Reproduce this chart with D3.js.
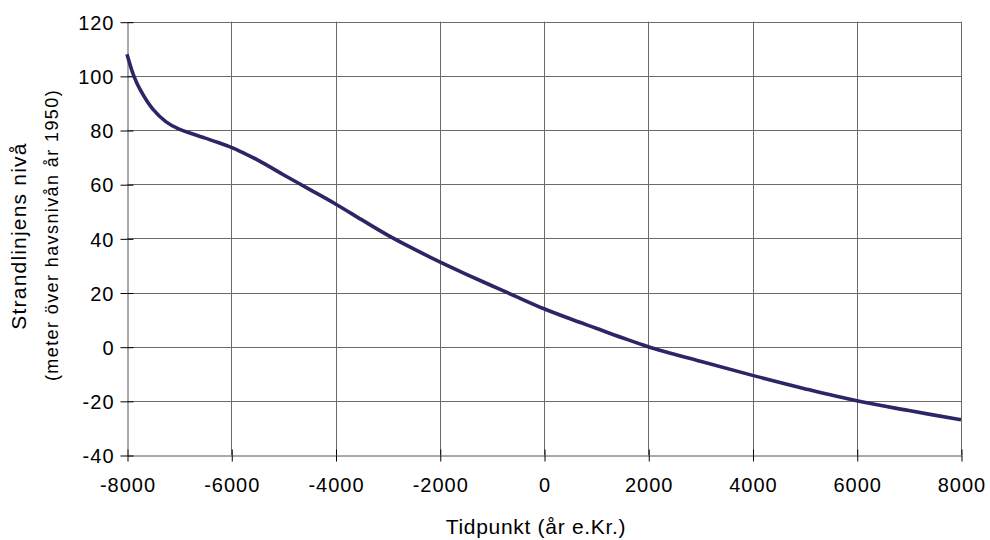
<!DOCTYPE html>
<html>
<head>
<meta charset="utf-8">
<script src="https://cdn.jsdelivr.net/npm/d3@7"></script>
<style>
  html, body { margin: 0; padding: 0; background: #fff; }
  svg text { font-family: "Liberation Sans", Arial, Helvetica, sans-serif; fill: #000; }
</style>
</head>
<body>
<svg id="chart" width="990" height="540"></svg>
<script>
// Shoreline level (m above 1950 sea level) by year AD
const years  = [-8000, -7875, -7750, -7500, -7250, -7000, -6750, -6500, -6250, -6000, -5750, -5500, -5250, -5000, -4500, -4000, -3500, -3000, -2500, -2000, -1500, -1000, -500, 0, 500, 1000, 1500, 2000, 3000, 4000, 5000, 6000, 7000, 8000];
const levels = [108, 100.3, 95, 87.6, 83, 80.3, 78.6, 77.0, 75.4, 73.6, 71.4, 69.0, 66.3, 63.5, 58.1, 52.7, 46.9, 41.2, 36.1, 31.3, 26.8, 22.5, 18.2, 14, 10.3, 6.8, 3.3, 0, -5.4, -10.6, -15.5, -20, -23.6, -27];
const xTicks = [-8000, -6000, -4000, -2000, 0, 2000, 4000, 6000, 8000];
const yTicks = [-40, -20, 0, 20, 40, 60, 80, 100, 120];

const svg = d3.select("#chart");
const plotLeft = 127, plotRight = 961, plotTop = 21.7, plotBottom = 455;

const x = d3.scaleLinear().domain([-8000, 8000]).range([plotLeft, plotRight]);
const y = d3.scaleLinear().domain([-40, 120]).range([plotBottom, plotTop]);

// grid
const grid = svg.append("g").attr("stroke", "#6a6a6a").attr("stroke-width", 1);
grid.selectAll(".gx").data(xTicks.slice(1)).enter().append("line")
  .attr("x1", d => Math.round(x(d)) + 0.5).attr("x2", d => Math.round(x(d)) + 0.5)
  .attr("y1", y(120)).attr("y2", y(-40));
grid.selectAll(".gy").data(yTicks.slice(1)).enter().append("line")
  .attr("y1", d => Math.round(y(d)) + 0.5).attr("y2", d => Math.round(y(d)) + 0.5)
  .attr("x1", x(-8000)).attr("x2", x(8000));

// axes with ticks crossing the axis line; labels use a plain hyphen
const fmt = d => String(d);
const xAxis = d3.axisBottom(x).tickValues(xTicks).tickSizeInner(6).tickSizeOuter(0).tickFormat(fmt);
const yAxis = d3.axisLeft(y).tickValues(yTicks).tickSizeInner(7).tickSizeOuter(0).tickFormat(fmt);

const gx = svg.append("g").attr("transform", `translate(0.5,${Math.round(y(-40)) + 0.5})`).call(xAxis);
const gy = svg.append("g").attr("transform", `translate(${Math.round(x(-8000)) + 0.5},0.5)`).call(yAxis);

[gx, gy].forEach(g => {
  g.select(".domain").attr("stroke", "#555");
  g.selectAll(".tick line").attr("stroke", "#000");
  g.selectAll(".tick text")
    .style("font-size", "20px")
    .style("letter-spacing", "1px")
    .style("fill", "#000");
});
gx.selectAll(".tick").append("line").attr("y1", 0).attr("y2", -6).attr("stroke", "#000");
gy.selectAll(".tick").append("line").attr("x1", 0).attr("x2", 6).attr("stroke", "#000");
gx.selectAll(".tick text").attr("y", 22).attr("dy", "0.71em");
gy.selectAll(".tick text").attr("x", -13).attr("dy", "0.36em");

// curve
const line = d3.line()
  .x((d, i) => x(years[i]))
  .y(d => y(d))
  .curve(d3.curveCatmullRom.alpha(0.5));
svg.append("path")
  .datum(levels)
  .attr("d", line)
  .attr("fill", "none")
  .attr("stroke", "#2b2766")
  .attr("stroke-width", 3.6)
  .attr("stroke-linejoin", "round");

// axis titles
svg.append("text")
  .attr("x", 536).attr("y", 534)
  .attr("text-anchor", "middle")
  .style("font-size", "21px")
  .style("letter-spacing", "0.7px")
  .text("Tidpunkt (år e.Kr.)");

svg.append("text")
  .attr("transform", "translate(26,236) rotate(-90)")
  .attr("text-anchor", "middle")
  .style("font-size", "21px")
  .style("letter-spacing", "1.2px")
  .text("Strandlinjens nivå");

svg.append("text")
  .attr("transform", "translate(58,235) rotate(-90)")
  .attr("text-anchor", "middle")
  .style("font-size", "18px")
  .style("letter-spacing", "1.4px")
  .text("(meter över havsnivån år 1950)");
</script>
</body>
</html>
